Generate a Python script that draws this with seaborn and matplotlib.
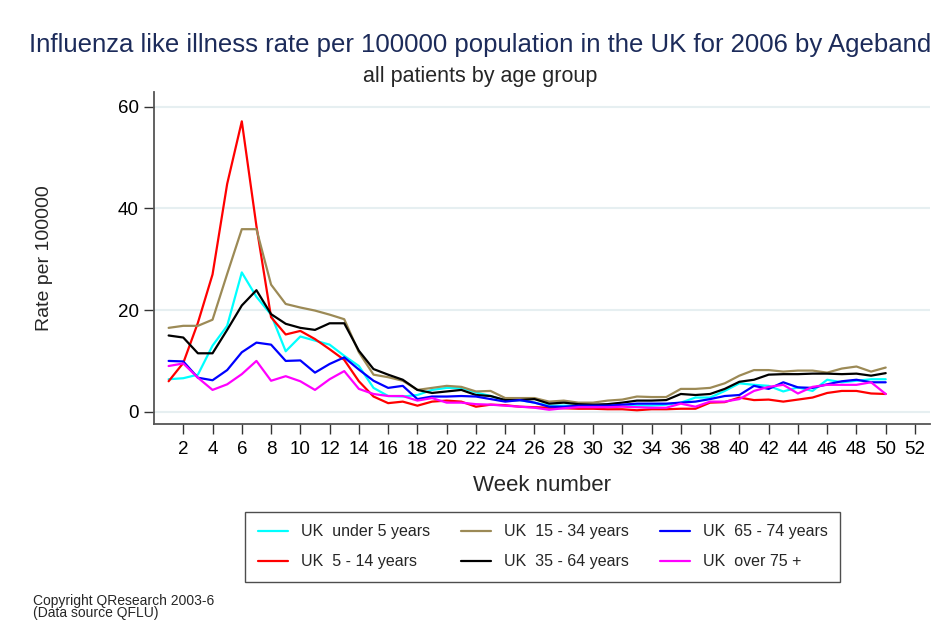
import numpy as np
import pandas as pd
import seaborn as sns
import matplotlib.pyplot as plt

# week numbers and rates per 100000 for each age band
weeks = list(range(1, 51))

under_5 = [6.4, 6.6, 7.3, 13.0, 16.9, 27.4, 22.6, 19.1, 11.9, 14.8, 14.0, 13.2, 11.0, 9.0,
           4.7, 3.1, 3.0, 3.3, 4.3, 4.7, 4.7, 3.8, 3.1, 2.2, 2.3, 1.8, 1.2, 1.2, 1.2, 1.2, 1.2, 1.2, 1.2,
           1.2, 1.4, 1.8, 2.8, 2.8, 4.1, 5.6, 5.3, 5.1, 4.0, 4.8, 4.1, 6.3, 5.8, 6.1, 6.4, 6.4]
age_5_14 = [6.0, 9.6, 17.5, 27.0, 44.8, 57.1, 36.5, 18.6, 15.2, 15.9, 14.3, 12.3, 10.2, 6.0,
            3.0, 1.7, 2.0, 1.2, 2.0, 2.2, 2.0, 1.0, 1.4, 1.3, 1.0, 0.9, 0.8, 0.7, 0.6, 0.6, 0.5, 0.5, 0.3,
            0.5, 0.5, 0.6, 0.6, 1.8, 1.9, 2.8, 2.3, 2.4, 2.0, 2.4, 2.8, 3.7, 4.1, 4.1, 3.6, 3.5]
age_15_34 = [16.5, 16.9, 16.9, 18.1, 27.1, 35.9, 35.9, 25.0, 21.2, 20.5, 19.9, 19.1, 18.2, 11.7,
             7.3, 6.8, 6.1, 4.3, 4.7, 5.1, 4.9, 4.0, 4.1, 2.7, 2.7, 2.7, 2.0, 2.2, 1.8, 1.8, 2.2, 2.4, 3.0,
             2.9, 2.9, 4.5, 4.5, 4.7, 5.6, 7.1, 8.2, 8.2, 7.9, 8.1, 8.1, 7.7, 8.5, 8.9, 7.9, 8.7]
age_35_64 = [15.0, 14.6, 11.5, 11.5, 16.1, 20.9, 23.9, 19.2, 17.3, 16.5, 16.1, 17.4, 17.4, 12.0,
             8.4, 7.3, 6.3, 4.3, 3.7, 4.0, 4.3, 3.3, 3.1, 2.3, 2.3, 2.5, 1.6, 1.8, 1.5, 1.4, 1.5, 1.8, 2.2,
             2.2, 2.3, 3.5, 3.3, 3.5, 4.5, 5.9, 6.3, 7.3, 7.4, 7.4, 7.5, 7.5, 7.4, 7.5, 7.1, 7.6]
age_65_74 = [10.0, 9.9, 6.7, 6.2, 8.2, 11.7, 13.6, 13.2, 10.0, 10.1, 7.7, 9.4, 10.7, 8.3,
             6.1, 4.7, 5.1, 2.5, 3.0, 3.0, 3.1, 3.0, 2.5, 2.0, 2.3, 1.8, 1.0, 1.0, 1.2, 1.2, 1.2, 1.4, 1.6,
             1.6, 1.6, 1.8, 2.0, 2.5, 3.1, 3.3, 5.1, 4.5, 5.8, 4.8, 4.7, 5.4, 6.0, 6.3, 5.8, 5.8]
over_75 = [9.0, 9.5, 6.7, 4.3, 5.4, 7.4, 10.0, 6.1, 7.0, 6.0, 4.3, 6.4, 8.0, 4.5,
           3.5, 3.1, 3.1, 2.2, 2.7, 1.8, 1.8, 1.5, 1.4, 1.2, 1.0, 0.8, 0.4, 0.7, 0.9, 0.9, 0.9, 1.0, 0.9,
           0.8, 0.8, 1.6, 1.0, 2.0, 2.0, 2.5, 4.1, 4.9, 5.3, 3.6, 4.9, 5.3, 5.3, 5.3, 5.8, 3.5]

labels = ["UK  under 5 years", "UK  5 - 14 years", "UK  15 - 34 years",
          "UK  35 - 64 years", "UK  65 - 74 years", "UK  over 75 +"]
colors = ["#00ffff", "#ff0000", "#9c8a56", "#000000", "#0000ff", "#ff00ff"]

series = [under_5, age_5_14, age_15_34, age_35_64, age_65_74, over_75]
df = pd.concat([pd.DataFrame({"week": weeks, "rate": s, "group": lab})
                for s, lab in zip(series, labels)], ignore_index=True)

sns.set_theme(style="white")
plt.rcParams["font.family"] = ["Liberation Sans", "DejaVu Sans"]

fig = plt.figure(figsize=(9.39, 6.4), dpi=100)
ax = fig.add_axes([0.164, 0.3375, 0.826, 0.519])

sns.lineplot(data=df, x="week", y="rate", hue="group", hue_order=labels,
             palette=dict(zip(labels, colors)), linewidth=1.6, errorbar=None, ax=ax)

ax.set_xlim(0, 53)
ax.set_ylim(-2.4, 62.9)
ax.set_xticks(range(2, 53, 2))
ax.set_yticks([0, 20, 40, 60])
ax.yaxis.grid(True, color="#e6eff1", linewidth=1.5)
ax.xaxis.grid(False)
for side in ["top", "right"]:
    ax.spines[side].set_visible(False)
for side in ["left", "bottom"]:
    ax.spines[side].set_color("#555555")
    ax.spines[side].set_linewidth(1.3)
ax.tick_params(axis="both", which="major", direction="out", length=7, width=1,
               color="#333333", labelsize=13.5, labelcolor="black", pad=4,
               left=True, bottom=True)
ax.tick_params(axis="x", pad=5)

ax.set_xlabel("Week number", fontsize=16)
ax.set_ylabel("Rate per 100000", fontsize=14)
ax.xaxis.set_label_coords(0.5, -0.155)
ax.yaxis.set_label_coords(-0.13, 0.5)

sns.move_legend(ax, "center", bbox_to_anchor=(0.261, 0.089, 0.634, 0.113),
                bbox_transform=fig.transFigure, mode="expand", ncol=3, title=None,
                frameon=True, fancybox=False, fontsize=11.5, handlelength=1.9,
                handletextpad=0.8, labelspacing=0.95, borderpad=0.8, borderaxespad=0)
leg = ax.get_legend()
leg.get_frame().set_edgecolor("#222222")
leg.get_frame().set_linewidth(1.0)

fig.text(0.511, 0.929, "Influenza like illness rate per 100000 population in the UK for 2006 by Ageband",
         ha="center", va="center", fontsize=18.5, color="#1c2b5a")
fig.text(0.511, 0.880, "all patients by age group", ha="center", va="center", fontsize=15.5)
fig.text(0.035, 0.072, "Copyright QResearch 2003-6\n(Data source QFLU)", ha="left", va="top",
         fontsize=10, linespacing=0.85)

fig.savefig("out.png", dpi=100)
